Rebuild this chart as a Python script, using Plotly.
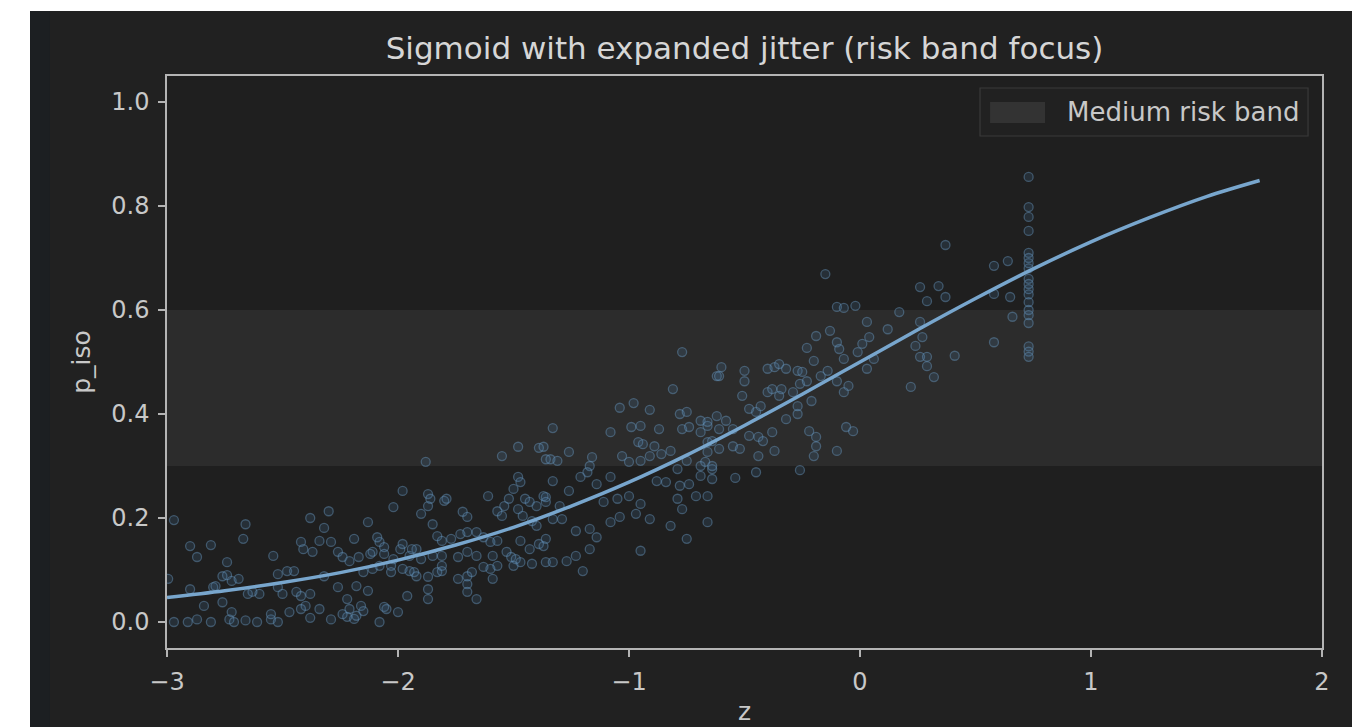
import plotly.graph_objects as go

# ---------------- data ----------------
title_text = "Sigmoid with expanded jitter (risk band focus)"
x_label = "z"
y_label = "p_iso"
band_name = "Medium risk band"
band_low = 0.3
band_high = 0.6
x_range = [-3, 2]
y_range = [-0.05, 1.05]
x_ticks = [-3, -2, -1, 0, 1, 2]
y_ticks = [0.0, 0.2, 0.4, 0.6, 0.8, 1.0]

# smooth curve
curve_z = [-3.0, -2.75, -2.5, -2.25, -2.0, -1.75, -1.5, -1.25, -1.0, -0.75,
           -0.5, -0.25, 0.0, 0.25, 0.5, 0.75, 1.0, 1.25, 1.5, 1.73]
curve_p = [0.047, 0.060, 0.076, 0.095, 0.119, 0.148, 0.182, 0.223, 0.269, 0.321,
           0.378, 0.438, 0.500, 0.562, 0.622, 0.679, 0.731, 0.777, 0.818, 0.849]

jitter_z = [
    -2.97, -2.90, -2.87, -2.81, -2.74, -2.66, -2.67, -2.74, -2.72, -2.54,
    -2.38, -2.30, -2.32, -2.42, -2.41, -2.37, -2.34, -2.29, -2.19, -2.13,
    -2.02, -2.08, -2.06, -2.11,
    -2.97, -2.91, -2.87, -2.81, -2.73, -2.71, -2.66, -2.61, -2.55, -2.52,
    -2.38, -2.29, -2.22, -2.19, -2.08,
    -2.84, -2.76, -2.72, -2.47, -2.42, -2.40, -2.34, -2.24, -2.21, -2.16,
    -2.26, -2.22, -2.18, -2.32, -2.38, -2.42, -2.52, -2.50, -2.60, -2.63,
    -2.65, -2.69, -2.76, -2.80, -2.90, -2.995, -2.48, -2.45, -2.52, -2.15,
    -2.11, -2.08, -2.03, -1.98, -1.95, -1.92, -1.87, -1.83, -1.81, -2.26,
    -2.24, -2.21, -2.17, -2.12, -2.06, -2.02, -1.99, -1.95, -1.92, -1.90,
    -1.85, -1.98, -1.94, -1.87, -1.85, -1.90, -1.83, -1.81, -1.80, -1.87,
    -1.87, -1.96, -2.05, -2.00, -1.81, -2.79, -2.55, -2.44, -2.18,
    -1.88, -1.55, -1.48, -1.39, -1.36, -1.48, -1.47, -1.50, -1.52, -1.54,
    -1.57, -1.55, -1.98, -1.87, -1.86, -1.79, -1.61, -1.72, -1.70, -1.45,
    -1.43, -1.40, -1.36, -1.48, -1.46, -1.42, -1.40, -2.09, -1.77, -1.73,
    -1.70, -1.66, -1.63, -1.60, -1.57, -1.53, -1.51, -1.49, -1.47, -1.43,
    -1.39, -1.36, -1.81, -1.74, -1.70, -1.66, -1.59, -1.57, -2.03, -1.93,
    -1.74, -1.70, -1.68, -1.63, -1.60, -1.59, -1.50, -1.47, -1.42, -1.36,
    -2.13, -1.70, -1.70, -1.66, -2.15, -2.06,
    -0.77, -0.81, -0.62, -1.04, -0.98, -0.91, -1.08, -1.33, -0.99, -0.95,
    -0.96, -0.94, -0.89, -0.87, -0.86, -0.78, -0.75, -0.69, -0.66, -0.77,
    -0.74, -1.37, -1.34, -1.31, -1.26, -1.16, -1.17, -1.03, -1.00, -0.95,
    -0.91, -0.82, -0.79, -0.75, -0.69, -0.64, -1.33, -1.26, -1.21, -1.18,
    -1.14, -1.08, -0.88, -0.84, -0.78, -0.74, -0.69, -0.64, -1.37, -1.36,
    -1.30, -1.11, -1.05, -1.00, -0.95, -0.79, -0.71, -0.77, -1.33, -1.29,
    -1.23, -1.17, -1.14, -1.08, -1.04, -0.97, -0.91, -0.82, -0.75, -0.66,
    -1.37, -1.33, -1.27, -1.23, -1.17, -1.20, -0.95,
    -0.15, -0.10, -0.07, -0.02, 0.03, 0.01, -0.01, -0.13, -0.19, -0.23,
    -0.20, -0.10, -0.07, -0.09, -0.05, -0.07, -0.10, -0.60, -0.61, -0.50,
    -0.50, -0.51, -0.40, -0.37, -0.35, -0.32, -0.27, -0.25, -0.26, -0.23,
    -0.40, -0.38, -0.34, -0.35, -0.29, -0.21, -0.17, -0.14, -0.48, -0.45,
    -0.43, -0.32, -0.27, -0.27, -0.66, -0.62, -0.58, -0.61, -0.55, -0.48,
    -0.44, -0.42, -0.38, -0.37, -0.44, -0.22, -0.19, -0.19, -0.20, -0.10,
    -0.06, -0.03, -0.69, -0.66, -0.64, -0.61, -0.55, -0.52, -0.66, -0.67,
    -0.64, -0.45, -0.54, -0.26, -0.66,
    0.37, 0.58, 0.64, 0.26, 0.34, 0.29, 0.37, 0.58, 0.65, 0.66,
    0.17, 0.12, 0.04, 0.26, 0.27, 0.24, 0.26, 0.29, 0.29, 0.32,
    0.22, 0.41, 0.58, 0.06, 0.03,
    0.73, 0.73, 0.73, 0.73, 0.73, 0.73, 0.73, 0.73, 0.73, 0.73,
    0.73, 0.73, 0.73, 0.73, 0.73, 0.73, 0.73, 0.73, 0.73,
]
jitter_p = [
    0.196, 0.146, 0.125, 0.148, 0.115, 0.188, 0.160, 0.090, 0.079, 0.127,
    0.200, 0.213, 0.181, 0.154, 0.140, 0.135, 0.156, 0.154, 0.160, 0.192,
    0.221, 0.154, 0.144, 0.135,
    0.000, 0.000, 0.005, 0.000, 0.005, 0.000, 0.003, 0.000, 0.005, 0.000,
    0.008, 0.005, 0.010, 0.006, 0.000,
    0.031, 0.038, 0.019, 0.019, 0.025, 0.031, 0.025, 0.015, 0.025, 0.031,
    0.067, 0.044, 0.069, 0.088, 0.054, 0.050, 0.067, 0.054, 0.054, 0.058,
    0.054, 0.083, 0.088, 0.067, 0.063, 0.083, 0.098, 0.098, 0.092, 0.096,
    0.102, 0.108, 0.108, 0.102, 0.098, 0.088, 0.087, 0.096, 0.108, 0.135,
    0.125, 0.117, 0.125, 0.131, 0.131, 0.121, 0.140, 0.127, 0.140, 0.121,
    0.127, 0.150, 0.140, 0.223, 0.188, 0.208, 0.165, 0.156, 0.233, 0.063,
    0.044, 0.050, 0.025, 0.019, 0.098, 0.069, 0.015, 0.058, 0.012,
    0.308, 0.319, 0.337, 0.335, 0.313, 0.279, 0.269, 0.256, 0.237, 0.223,
    0.213, 0.204, 0.252, 0.246, 0.237, 0.237, 0.242, 0.212, 0.202, 0.237,
    0.231, 0.223, 0.240, 0.217, 0.204, 0.194, 0.185, 0.163, 0.160, 0.169,
    0.173, 0.173, 0.163, 0.154, 0.156, 0.135, 0.125, 0.121, 0.156, 0.140,
    0.150, 0.160, 0.127, 0.125, 0.135, 0.127, 0.127, 0.108, 0.096, 0.096,
    0.083, 0.088, 0.096, 0.106, 0.102, 0.083, 0.108, 0.115, 0.112, 0.115,
    0.060, 0.073, 0.058, 0.044, 0.021, 0.029,
    0.519, 0.448, 0.473, 0.412, 0.421, 0.408, 0.365, 0.373, 0.375, 0.377,
    0.346, 0.342, 0.338, 0.371, 0.323, 0.400, 0.404, 0.387, 0.377, 0.371,
    0.375, 0.337, 0.313, 0.310, 0.327, 0.317, 0.300, 0.319, 0.308, 0.310,
    0.319, 0.329, 0.294, 0.310, 0.300, 0.294, 0.271, 0.252, 0.279, 0.288,
    0.265, 0.279, 0.271, 0.269, 0.262, 0.265, 0.281, 0.275, 0.242, 0.231,
    0.223, 0.231, 0.237, 0.242, 0.227, 0.237, 0.242, 0.217, 0.198, 0.198,
    0.175, 0.179, 0.163, 0.192, 0.202, 0.208, 0.198, 0.185, 0.160, 0.192,
    0.146, 0.115, 0.117, 0.127, 0.140, 0.098, 0.137,
    0.669, 0.606, 0.604, 0.608, 0.577, 0.535, 0.519, 0.560, 0.550, 0.527,
    0.502, 0.538, 0.506, 0.525, 0.454, 0.442, 0.463, 0.490, 0.473, 0.483,
    0.463, 0.435, 0.487, 0.490, 0.496, 0.487, 0.483, 0.481, 0.458, 0.463,
    0.442, 0.448, 0.448, 0.435, 0.442, 0.425, 0.473, 0.483, 0.410, 0.404,
    0.415, 0.390, 0.400, 0.415, 0.385, 0.396, 0.387, 0.371, 0.371, 0.358,
    0.356, 0.348, 0.365, 0.329, 0.319, 0.367, 0.356, 0.338, 0.319, 0.329,
    0.375, 0.367, 0.365, 0.346, 0.348, 0.333, 0.338, 0.333, 0.327, 0.308,
    0.300, 0.288, 0.277, 0.292, 0.242,
    0.725, 0.685, 0.694, 0.644, 0.646, 0.617, 0.625, 0.631, 0.625, 0.587,
    0.596, 0.563, 0.548, 0.577, 0.548, 0.531, 0.510, 0.510, 0.492, 0.471,
    0.452, 0.512, 0.538, 0.506, 0.487,
    0.856, 0.798, 0.779, 0.752, 0.710, 0.700, 0.690, 0.680, 0.660, 0.650,
    0.640, 0.630, 0.615, 0.600, 0.590, 0.575, 0.530, 0.520, 0.510,
]

# ---------------- style ----------------
FONT = "DejaVu Sans"
FIG_BG = "#212121"
AX_BG = "#1f1f1f"
BAND_COL = "#2c2c2c"
SPINE = "#b4b4b4"
TXT = "#c8c8c8"
TICK_SIZE = 24
LABEL_SIZE = 25
TITLE_SIZE = 31

fig = go.Figure()

fig.add_trace(go.Scatter(
    x=jitter_z, y=jitter_p, mode="markers", showlegend=False, hoverinfo="skip",
    marker=dict(size=9, color="rgba(70,120,165,0.18)",
                line=dict(color="rgba(105,150,190,0.45)", width=1.3)),
))
fig.add_trace(go.Scatter(
    x=curve_z, y=curve_p, mode="lines", line_shape="spline", showlegend=False,
    hoverinfo="skip", line=dict(color="#78a6cd", width=3.5),
))

# risk band
fig.add_shape(type="rect", xref="x domain", x0=0, x1=1, yref="y",
              y0=band_low, y1=band_high, fillcolor=BAND_COL,
              line=dict(width=0), layer="below")

# hand-drawn legend (box, patch, label)
fig.add_shape(type="rect", xref="paper", yref="paper", x0=0.7039, x1=0.9879,
              y0=0.8951, y1=0.979, fillcolor=FIG_BG,
              line=dict(color="#3a3a3a", width=1.2), layer="above")
fig.add_shape(type="rect", xref="paper", yref="paper", x0=0.7126, x1=0.7602,
              y0=0.9178, y1=0.9545, fillcolor="#333333",
              line=dict(width=0), layer="above")
fig.add_annotation(xref="paper", yref="paper", x=0.7775, y=0.937,
                   xanchor="left", yanchor="middle", showarrow=False,
                   text=band_name, font=dict(family=FONT, size=26, color=TXT))

# screenshot frame edges
fig.add_shape(type="rect", xref="paper", yref="paper", x0=-0.2, x1=1.1,
              y0=1.1136, y1=1.2, fillcolor="white", line=dict(width=0), layer="above")
fig.add_shape(type="rect", xref="paper", yref="paper", x0=-0.2, x1=-0.1186,
              y0=-0.2, y1=1.2, fillcolor="white", line=dict(width=0), layer="above")
fig.add_shape(type="rect", xref="paper", yref="paper", x0=-0.1186, x1=-0.1013,
              y0=-0.2, y1=1.1136, fillcolor="#1c1f22", line=dict(width=0), layer="above")

axis_common = dict(showline=True, mirror=True, linecolor=SPINE, linewidth=1.5,
                   ticks="outside", ticklen=7, tickwidth=1.5, tickcolor=SPINE,
                   showgrid=False, zeroline=False, ticklabelstandoff=4,
                   automargin=False,
                   tickfont=dict(family=FONT, size=TICK_SIZE, color=TXT))

fig.update_xaxes(range=x_range, tickvals=x_ticks,
                 title=dict(text=x_label, font=dict(family=FONT, size=LABEL_SIZE, color=TXT), standoff=8),
                 **axis_common)
fig.update_yaxes(range=y_range, tickvals=y_ticks, tickformat=".1f",
                 title=dict(text=y_label, font=dict(family=FONT, size=LABEL_SIZE, color=TXT), standoff=14),
                 **axis_common)

fig.update_layout(
    width=1352, height=727,
    margin=dict(l=167, r=30, t=76, b=79, pad=0),
    paper_bgcolor=FIG_BG, plot_bgcolor=AX_BG,
    showlegend=False,
    title=dict(text=title_text, xref="paper", x=0.5, xanchor="center",
               y=0.934, yanchor="middle",
               font=dict(family=FONT, size=TITLE_SIZE, color="#d6d6d6")),
    font=dict(family=FONT, color=TXT),
)

fig.write_html("out.html")
